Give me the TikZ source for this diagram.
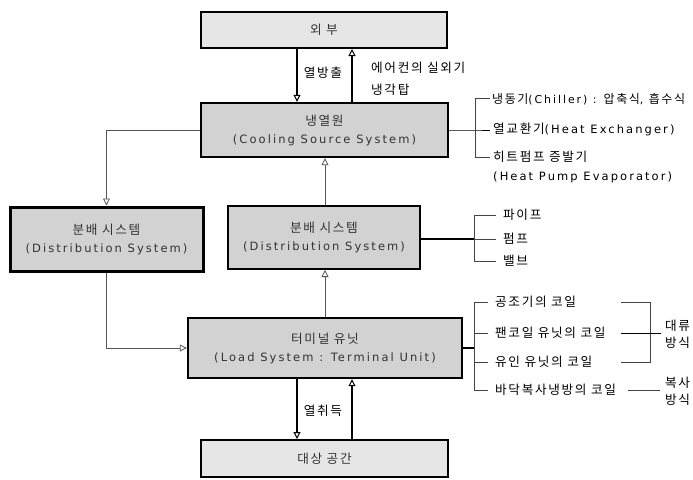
\documentclass[tikz,border=0pt]{standalone}
\usepackage{fontspec}
\setmainfont{DejaVu Sans}[LetterSpace=18]
\newfontfamily\krfont{Noto Sans CJK KR}[LetterSpace=13, Scale=1.1]
\newcommand{\kr}[1]{{\krfont #1}}
\usetikzlibrary{arrows.meta}
\definecolor{boxgray}{HTML}{D2D2D2}
\definecolor{lightgray}{HTML}{E6E6E6}
\definecolor{textgray}{HTML}{333333}
\definecolor{linegray}{HTML}{555555}
\definecolor{brkgray}{HTML}{444444}
\newcommand{\fsz}{\fontsize{11.5}{15}\selectfont}
\newcommand{\fszs}{\fontsize{10.9}{15}\selectfont}
\newcommand{\fszb}{\fontsize{11.5}{18}\selectfont}
\begin{document}
\begin{tikzpicture}[x=1pt,y=-1pt,
  every node/.style={font=\fsz, inner sep=0pt},
  box/.style={draw=black, line width=2pt, fill=boxgray, align=center, font=\fszb, text=textgray, minimum width=#1},
  lightbox/.style={box=#1, fill=lightgray},
  flow/.style={line width=1.8pt, -{Triangle[open,width=7pt,length=7pt,line width=1pt]}},
  link/.style={line width=0.8pt, draw=linegray, -{Triangle[open,width=7pt,length=7pt,line width=0.8pt]}},
  brk/.style={line width=0.9pt, draw=brkgray},
  conn/.style={line width=1.5pt, draw=black},
  lbl/.style={anchor=west, text=black, align=left}]
\clip (0,0) rectangle (693,479);
\fill[white] (0,0) rectangle (693,479);

% boxes
\node[lightbox=246pt, minimum height=36pt] (ext) at (324,30) {\kr{외 부}};
\node[box=247pt, minimum height=54pt, line width=2.4pt] (cool) at (324.5,130) {\kr{냉열원}\\(Cooling Source System)};
\node[box=193pt, minimum height=64pt, line width=3pt] (distL) at (106.5,239) {\kr{분배 시스템}\\(Distribution System)};
\node[box=192pt, minimum height=63pt] (distM) at (324,237.5) {\kr{분배 시스템}\\(Distribution System)};
\node[box=274pt, minimum height=60pt, line width=2.4pt] (term) at (325,348) {\kr{터미널 유닛}\\(Load System : Terminal Unit)};
\node[lightbox=247pt, minimum height=37pt] (space) at (324.5,458.5) {\kr{대상 공간}};

\coordinate (xa) at (297,0);
\coordinate (xb) at (352,0);
\coordinate (xc) at (325,0);

% vertical flows
\draw[flow] (ext.south -| xa) -- (cool.north -| xa);
\draw[flow] (cool.north -| xb) -- (ext.south -| xb);
\draw[flow] (term.south -| xa) -- (space.north -| xa);
\draw[flow] (space.north -| xb) -- (term.south -| xb);
\draw[link] (distM.north -| xc) -- (cool.south -| xc);
\draw[link] (term.north -| xc) -- (distM.south -| xc);
\draw[link] (cool.west) -| (distL.north);
\draw[link] (distL.south) |- (term.west);

% flow labels
\node (l1) at (323,73) {\kr{열방출}};
\node[lbl] (l2) at (371,68) {\kr{에어컨의 실외기}};
\node[lbl] (l3) at (371,90) {\kr{냉각탑}};
\node (l4) at (323,411) {\kr{열취득}};

% cooling source bracket
\coordinate (c0) at (475,130);
\coordinate (ct) at (475,98);
\coordinate (cb) at (475,157);
\draw[conn, line width=1pt] (cool.east) -- (c0) -- (490,130);
\draw[brk] (490,98) -- (ct) -- (cb) -- (490,157);
\node[lbl, font=\fszs] (c1) at (492,99) {\kr{냉동기}(Chiller) : \kr{압축식}, \kr{흡수식}};
\node[lbl] (c2) at (493,129) {\kr{열교환기}(Heat Exchanger)};
\node[lbl] (c3) at (493,157) {\kr{히트펌프 증발기}};
\node[lbl] (c4) at (493,177) {(Heat Pump Evaporator)};

% distribution bracket
\coordinate (d0) at (474,239);
\draw[conn] (distM.east |- d0) -- (d0);
\draw[brk] (496,215) -- (474,215) -- (474,261) -- (496,261);
\draw[brk] (d0) -- (496,239);
\node[lbl] (d1) at (503,215) {\kr{파이프}};
\node[lbl] (d2) at (503,239) {\kr{펌프}};
\node[lbl] (d3) at (503,261) {\kr{밸브}};

% terminal bracket
\coordinate (t0) at (474,348);
\draw[conn] (term.east) -- (t0);
\draw[brk] (488,302) -- (474,302) -- (474,390) -- (488,390);
\draw[brk] (474,333) -- (488,333);
\draw[brk] (474,362) -- (488,362);
\node[lbl] (t1) at (495,302) {\kr{공조기의 코일}};
\node[lbl] (t2) at (495,333) {\kr{팬코일 유닛의 코일}};
\node[lbl] (t3) at (495,362) {\kr{유인 유닛의 코일}};
\node[lbl] (t4) at (495,390) {\kr{바닥복사냉방의 코일}};

% convection / radiation
\draw[brk] (621,302) -- (650,302) -- (650,362) -- (621,362);
\draw[conn, line width=1pt] (621,333) -- (661,333);
\node[lbl] (r1) at (665,326) {\kr{대류}};
\node[lbl] (r2) at (665,343) {\kr{방식}};
\draw[brk] (628,390) -- (660,390);
\node[lbl] (r3) at (665,383) {\kr{복사}};
\node[lbl] (r4) at (665,400) {\kr{방식}};
\end{tikzpicture}
\end{document}
